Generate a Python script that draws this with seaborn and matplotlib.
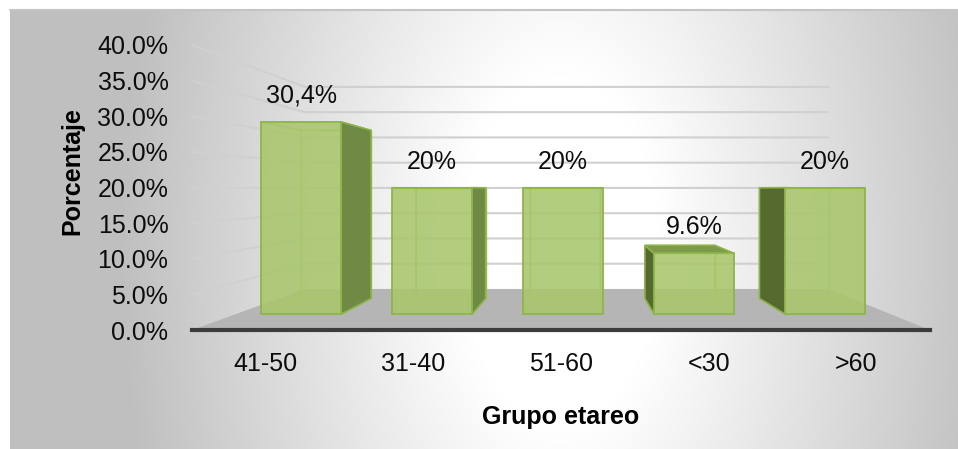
import numpy as np
import pandas as pd
import seaborn as sns
import matplotlib
matplotlib.use("Agg")
import matplotlib.pyplot as plt
from matplotlib.patches import Polygon

# Age groups and their share of respondents
grupos = ["41-50", "31-40", "51-60", "<30", ">60"]
porcentajes = [30.4, 20.0, 20.0, 9.6, 20.0]
etiquetas = ["30,4%", "20%", "20%", "9.6%", "20%"]
marcas_y = [0, 5, 10, 15, 20, 25, 30, 35, 40]

sns.set_theme(style="white")
plt.rcParams["font.family"] = ["Liberation Sans", "DejaVu Sans"]

W, H = 958, 449
fig = plt.figure(figsize=(W / 100, H / 100), dpi=100)
fig.patch.set_facecolor("white")

# Soft grey-to-white gradient panel behind the chart
bg = fig.add_axes([10 / W, 0, (W - 10) / W, (H - 10) / H])
bg.set_axis_off()
xx, yy = np.meshgrid(np.arange(10, W), np.arange(10, H))
d = np.sqrt(((xx - 560) / 400.0) ** 2 + ((yy - 250) / 700.0) ** 2)
val = 1 - 0.25 * np.clip((d - 0.25) / 0.85, 0, 1)
bg.imshow(np.dstack([val, val, val]), aspect="auto", extent=(0, 1, 0, 1))
bg.plot([0, 1], [1, 1], color="#c4c4c4", lw=1.5, transform=bg.transAxes, clip_on=False)

ax = fig.add_axes([192 / W, (H - 330) / H, 738 / W, 285 / H])
ax.patch.set_alpha(0)

df = pd.DataFrame({"grupo": grupos, "pct": porcentajes})
sns.barplot(data=df, x="grupo", y="pct", width=0.61, color="#a9c66d",
            saturation=1, ax=ax, zorder=6)
ax.set_xlim(-0.5, 4.5)
ax.set_ylim(0, 40)

# Perspective: everything recedes toward a vanishing point
VX, VY = 2.129, 19.79
S_FRONT, S_BACK, S_WALL = 0.887, 0.887 * 0.875, 0.709


def proj(x, y, s):
    return (VX + s * (x - VX), VY + s * (y - VY))


# Floor
floor = Polygon([proj(-0.5, 0, 1), proj(4.5, 0, 1), proj(4.5, 0, S_WALL), proj(-0.5, 0, S_WALL)],
                closed=True, facecolor="#b5b5b5", edgecolor="none", zorder=1)
ax.add_patch(floor)

# Gridlines on the side and back walls
for t in marcas_y[1:]:
    a = proj(-0.5, t, 1)
    b = proj(-0.5, t, S_WALL)
    c = proj(4.5, t, S_WALL)
    ax.plot([a[0], b[0], c[0]], [a[1], b[1], c[1]], color="#d0d0d0", lw=1.5,
            zorder=0.5, clip_on=False)

edge_c = "#8cb349"
for patch, lab in zip(ax.patches[:len(grupos)], etiquetas):
    x0, w, h = patch.get_x(), patch.get_width(), patch.get_height()
    f = [proj(x0, 0, S_FRONT), proj(x0 + w, 0, S_FRONT), proj(x0 + w, h, S_FRONT), proj(x0, h, S_FRONT)]
    b = [proj(x0, 0, S_BACK), proj(x0 + w, 0, S_BACK), proj(x0 + w, h, S_BACK), proj(x0, h, S_BACK)]
    faces = {
        "back": ([b[0], b[1], b[2], b[3]], "#a9c66d", False),
        "bottom": ([f[0], f[1], b[1], b[0]], "#a9c66d", False),
        "left": ([f[0], f[3], b[3], b[0]], "#56692f", f[0][0] > VX),
        "right": ([f[1], f[2], b[2], b[1]], "#6f8a45", f[1][0] < VX),
        "top": ([f[3], f[2], b[2], b[3]], "#7d9a4a", h < VY),
    }
    for name, (pts, col, visible) in faces.items():
        if visible:
            ax.add_patch(Polygon(pts, closed=True, facecolor=col, edgecolor=edge_c,
                                 lw=1.2, zorder=4, clip_on=False))
        else:
            ax.add_patch(Polygon(pts, closed=True, facecolor="none", edgecolor="#9ec55c",
                                 lw=1.0, zorder=3, clip_on=False))
    # front face is the seaborn bar itself, pulled into perspective
    patch.set_xy(f[0])
    patch.set_width(w * S_FRONT)
    patch.set_height(h * S_FRONT)
    patch.set_alpha(0.88)
    patch.set_edgecolor(edge_c)
    patch.set_linewidth(1.3)
    patch.set_clip_on(False)
    ax.annotate(lab, xy=((f[2][0] + f[3][0]) / 2, f[2][1]), xytext=(0, 18.7),
                textcoords="offset points", ha="center", va="center",
                fontsize=18, color="#0d0d0d", annotation_clip=False)

# Axes styling
sns.despine(ax=ax, left=True, top=True, right=True, bottom=False)
ax.spines["bottom"].set_color("#3c3c3c")
ax.spines["bottom"].set_linewidth(3)
ax.spines["bottom"].set_zorder(7)
ax.set_yticks(marcas_y)
ax.set_yticklabels([f"{v:.1f}%" for v in marcas_y])
ax.tick_params(axis="y", length=0, pad=17, labelsize=18, labelcolor="#0d0d0d")
ax.tick_params(axis="x", length=0, pad=16, labelsize=18, labelcolor="#0d0d0d")
ax.grid(False)

ax.set_xlabel("Grupo etareo", fontsize=18, fontweight="bold", color="#000000")
ax.set_ylabel("Porcentaje", fontsize=18, fontweight="bold", color="#000000")
ax.xaxis.set_label_coords((561 - 192) / 738, (330 - 417) / 285)
ax.xaxis.label.set_va("center")
ax.yaxis.set_label_coords((72 - 192) / 738, (330 - 171) / 285)
ax.yaxis.label.set_va("center")

fig.savefig("out.png", dpi=100)
